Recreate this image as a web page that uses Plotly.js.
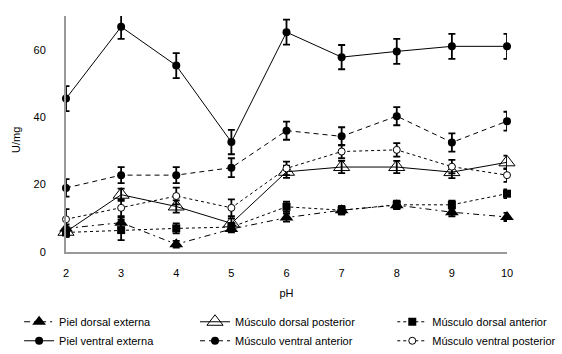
<!DOCTYPE html>
<html>
<head>
<meta charset="utf-8">
<script src="https://cdn.plot.ly/plotly-3.0.1.min.js"></script>
<style>html,body{margin:0;padding:0;background:#fff;}#chart{width:562px;height:354px;}</style>
</head>
<body>
<div id="chart"></div>
<script>
var pH = [2, 3, 4, 5, 6, 7, 8, 9, 10];

var pielDorsalExterna = [7, 8.7, 2.3, 6.8, 10.2, 12.4, 13.9, 11.8, 10.4];
var pielDorsalExternaErr = [1.2, 1.5, 1.0, 1.0, 1.2, 1.2, 1.2, 1.2, 1.2];

var pielVentralExterna = [45.5, 66.8, 55.3, 32.6, 65.2, 57.8, 59.5, 61.0, 61.0];
var pielVentralExternaErr = [3.7, 3.6, 3.7, 3.6, 3.7, 3.6, 3.7, 3.7, 3.7];

var musculoDorsalPosterior = [6, 17, 13.5, 8.5, 23.8, 25.2, 25.2, 23.7, 26.6];
var musculoDorsalPosteriorErr = [1.5, 1.8, 1.8, 1.5, 1.8, 1.8, 1.8, 1.8, 2.0];

var musculoVentralAnterior = [19, 22.8, 22.8, 25, 36, 34.3, 40.3, 32.5, 38.8];
var musculoVentralAnteriorErr = [2.6, 2.4, 2.4, 2.8, 2.7, 2.7, 2.7, 2.7, 2.8];

var musculoDorsalAnterior = [5.8, 6.5, 7, 7.4, 13.4, 12.4, 14, 14, 17.3];
var musculoDorsalAnteriorErr = [1.2, 3.0, 1.5, 1.2, 1.5, 1.2, 1.2, 1.2, 1.3];

var musculoVentralPosterior = [9.7, 13.1, 16.6, 13.1, 24.8, 29.8, 30.3, 25.3, 22.8];
var musculoVentralPosteriorErr = [3.0, 2.5, 2.5, 2.5, 2.0, 2.0, 2.0, 2.0, 2.0];

var yTicks = [0, 20, 40, 60];
var xTicks = pH;

function errBar(arr) {
  return {type: 'data', array: arr, visible: true, color: '#000', thickness: 1.8, width: 3.5};
}

var traces = [
  {name: 'Piel dorsal externa', x: pH, y: pielDorsalExterna, error_y: errBar(pielDorsalExternaErr),
   mode: 'lines+markers', line: {color: '#000', width: 1, dash: '6px,4px,2px,4px'},
   marker: {symbol: 'triangle-up', size: 12, color: '#000'}, legend: 'legend', cliponaxis: false},
  {name: 'Piel ventral externa', x: pH, y: pielVentralExterna, error_y: errBar(pielVentralExternaErr),
   mode: 'lines+markers', line: {color: '#000', width: 1},
   marker: {symbol: 'circle', size: 8, color: '#000'}, legend: 'legend', cliponaxis: false},
  {name: 'Músculo dorsal posterior', x: pH, y: musculoDorsalPosterior, error_y: errBar(musculoDorsalPosteriorErr),
   mode: 'lines+markers', line: {color: '#000', width: 1},
   marker: {symbol: 'triangle-up-open', size: 14, color: '#000', line: {width: 1}}, legend: 'legend2', cliponaxis: false},
  {name: 'Músculo ventral anterior', x: pH, y: musculoVentralAnterior, error_y: errBar(musculoVentralAnteriorErr),
   mode: 'lines+markers', line: {color: '#000', width: 1, dash: '5px,4px'},
   marker: {symbol: 'circle', size: 8, color: '#000'}, legend: 'legend2', cliponaxis: false},
  {name: 'Músculo dorsal anterior', x: pH, y: musculoDorsalAnterior, error_y: errBar(musculoDorsalAnteriorErr),
   mode: 'lines+markers', line: {color: '#000', width: 1, dash: 'dot'},
   marker: {symbol: 'square', size: 8, color: '#000'}, legend: 'legend3', cliponaxis: false},
  {name: 'Músculo ventral posterior', x: pH, y: musculoVentralPosterior, error_y: errBar(musculoVentralPosteriorErr),
   mode: 'lines+markers', line: {color: '#000', width: 1, dash: 'dot'},
   marker: {symbol: 'circle', size: 7, color: '#fff', line: {color: '#000', width: 1}}, legend: 'legend3', cliponaxis: false}
];

var legBase = {orientation: 'v', yanchor: 'top', xanchor: 'left', xref: 'container', yref: 'container',
  bgcolor: 'rgba(0,0,0,0)',
  font: {family: 'Liberation Sans, Arial, sans-serif', size: 11, color: '#000'},
  tracegroupgap: 0, itemwidth: 30};

var layout = {
  width: 562, height: 354,
  margin: {l: 66, r: 55, t: 16, b: 102, autoexpand: false},
  paper_bgcolor: '#fff', plot_bgcolor: '#fff',
  font: {family: 'Liberation Sans, Arial, sans-serif', size: 11, color: '#000'},
  showlegend: true,
  xaxis: {
    range: [2, 10], tickvals: xTicks, ticktext: xTicks.map(String),
    showgrid: false, zeroline: false, showline: true, linecolor: '#999', linewidth: 2,
    ticks: '', ticklabelstandoff: 10,
    title: {text: 'pH', font: {size: 11}, standoff: 11}
  },
  yaxis: {
    range: [0, 70], tickvals: yTicks, ticktext: yTicks.map(String),
    showgrid: false, zeroline: false, showline: true, linecolor: '#999', linewidth: 2,
    ticks: '', ticklabelstandoff: 16
  },
  annotations: [{
    text: 'U/mg', xref: 'paper', yref: 'paper', x: 0, y: 0.475, xanchor: 'center', yanchor: 'middle',
    xshift: -50, textangle: -90, showarrow: false, font: {size: 11, color: '#000'}
  }],
  legend: Object.assign({}, legBase, {x: 0.034, y: 0.132}),
  legend2: Object.assign({}, legBase, {x: 0.347, y: 0.132}),
  legend3: Object.assign({}, legBase, {x: 0.698, y: 0.132})
};

Plotly.newPlot('chart', traces, layout, {displayModeBar: false, staticPlot: true});
</script>
</body>
</html>
